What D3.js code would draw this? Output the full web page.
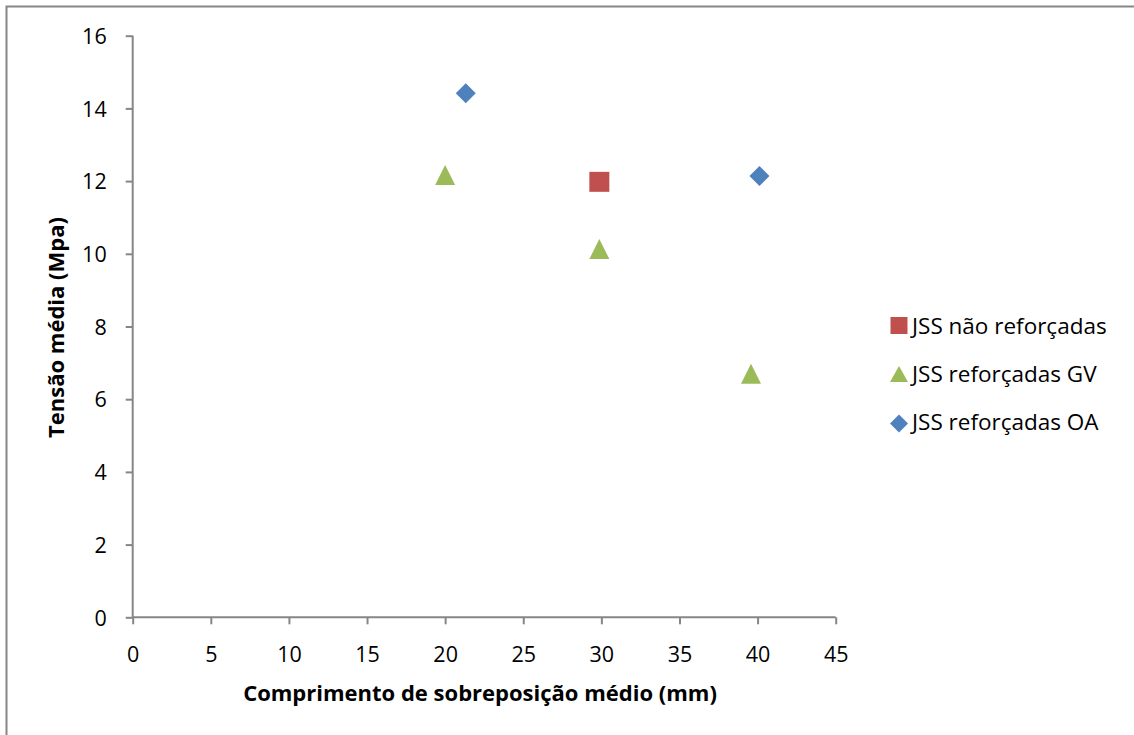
<!DOCTYPE html>
<html>
<head>
<meta charset="utf-8">
<script src="https://cdn.jsdelivr.net/npm/d3@7"></script>
<style>
  html, body { margin: 0; padding: 0; background: #fff; }
  svg { display: block; }
  text { font-family: "Open Sans", "Noto Sans", sans-serif; fill: #000; }
</style>
</head>
<body>
<svg id="chart" width="1134" height="735"></svg>
<script>
// Series: overlap length (mm) vs. mean stress (MPa)
const seriesNames = ["JSS não reforçadas", "JSS reforçadas GV", "JSS reforçadas OA"];
const naoReforcadas = [[29.87, 11.98]];
const reforcadasGV = [[20.0, 12.17], [29.87, 10.13], [39.58, 6.70]];
const reforcadasOA = [[21.32, 14.42], [40.12, 12.14]];
const xTicks = [0, 5, 10, 15, 20, 25, 30, 35, 40, 45];
const yTicks = [0, 2, 4, 6, 8, 10, 12, 14, 16];
const xTitle = "Comprimento de sobreposição médio (mm)";
const yTitle = "Tensão média (Mpa)";

const colors = ["#C0504D", "#9BBB59", "#4F81BD"];
const seriesData = [naoReforcadas, reforcadasGV, reforcadasOA];

// marker outlines, centred on the point; w = width, h = height
const markerPath = [
  (w, h) => `M${-w/2},${-h/2}H${w/2}V${h/2}H${-w/2}Z`,
  (w, h) => `M0,${-h/2}L${w/2},${h/2}H${-w/2}Z`,
  (w, h) => `M0,${-h/2}L${w/2},0L0,${h/2}L${-w/2},0Z`
];
const plotMarker = [[20, 20], [20, 20], [20, 20]];
const legendMarker = [[17, 17], [18, 16], [18, 18]];

const svg = d3.select("#chart");
const axisColor = "#868686";

// outer chart frame
svg.append("rect")
  .attr("x", 6.5).attr("y", 6.5)
  .attr("width", 1200).attr("height", 800)
  .attr("fill", "none").attr("stroke", axisColor).attr("stroke-width", 2);

const x = d3.scaleLinear().domain([0, 45]).range([132.7, 835.7]);
const y = d3.scaleLinear().domain([0, 16]).range([617.3, 35.7]);

const tickFont = 21.5;

// x axis
const gx = svg.append("g").attr("transform", `translate(0,${y(0)})`)
  .call(d3.axisBottom(x).tickValues(xTicks).tickSize(7).tickPadding(22).tickFormat(d3.format("d")));
// y axis
const gy = svg.append("g").attr("transform", `translate(${x(0)},0)`)
  .call(d3.axisLeft(y).tickValues(yTicks).tickSize(7).tickPadding(19).tickFormat(d3.format("d")));

[gx, gy].forEach(g => {
  g.attr("font-size", null).attr("font-family", null);
  g.select(".domain").attr("stroke", axisColor).attr("stroke-width", 2);
  g.selectAll(".tick line").attr("stroke", axisColor).attr("stroke-width", 2);
  g.selectAll(".tick text").attr("font-size", tickFont).attr("fill", "#000");
});
gx.select(".domain").attr("d", `M${x(0)},0H${x(45)}`);
gy.select(".domain").attr("d", `M0,${y(0)}V${y(16)}`);
gx.selectAll(".tick text").attr("dy", "0.71em");
gy.selectAll(".tick text").attr("dy", "0.36em");

// markers
seriesData.forEach((pts, i) => {
  svg.append("g").selectAll("path").data(pts).join("path")
    .attr("transform", d => `translate(${x(d[0])},${y(d[1])})`)
    .attr("d", markerPath[i](...plotMarker[i]))
    .attr("fill", colors[i]);
});

// axis titles
svg.append("text")
  .attr("x", 480).attr("y", 701)
  .attr("text-anchor", "middle").attr("font-weight", "bold").attr("font-size", 22)
  .text(xTitle);
svg.append("text")
  .attr("transform", `translate(64,327.5) rotate(-90)`)
  .attr("text-anchor", "middle").attr("font-weight", "bold").attr("font-size", 22)
  .text(yTitle);

// legend
const legendY = [325.5, 374, 423.4];
const legendTextY = [326, 374, 422];
seriesNames.forEach((name, i) => {
  svg.append("path")
    .attr("transform", `translate(899,${legendY[i]})`)
    .attr("d", markerPath[i](...legendMarker[i]))
    .attr("fill", colors[i]);
  svg.append("text").attr("x", 912).attr("y", legendTextY[i]).attr("dy", "0.36em")
    .attr("font-size", 22.5).text(name);
});
</script>
</body>
</html>
